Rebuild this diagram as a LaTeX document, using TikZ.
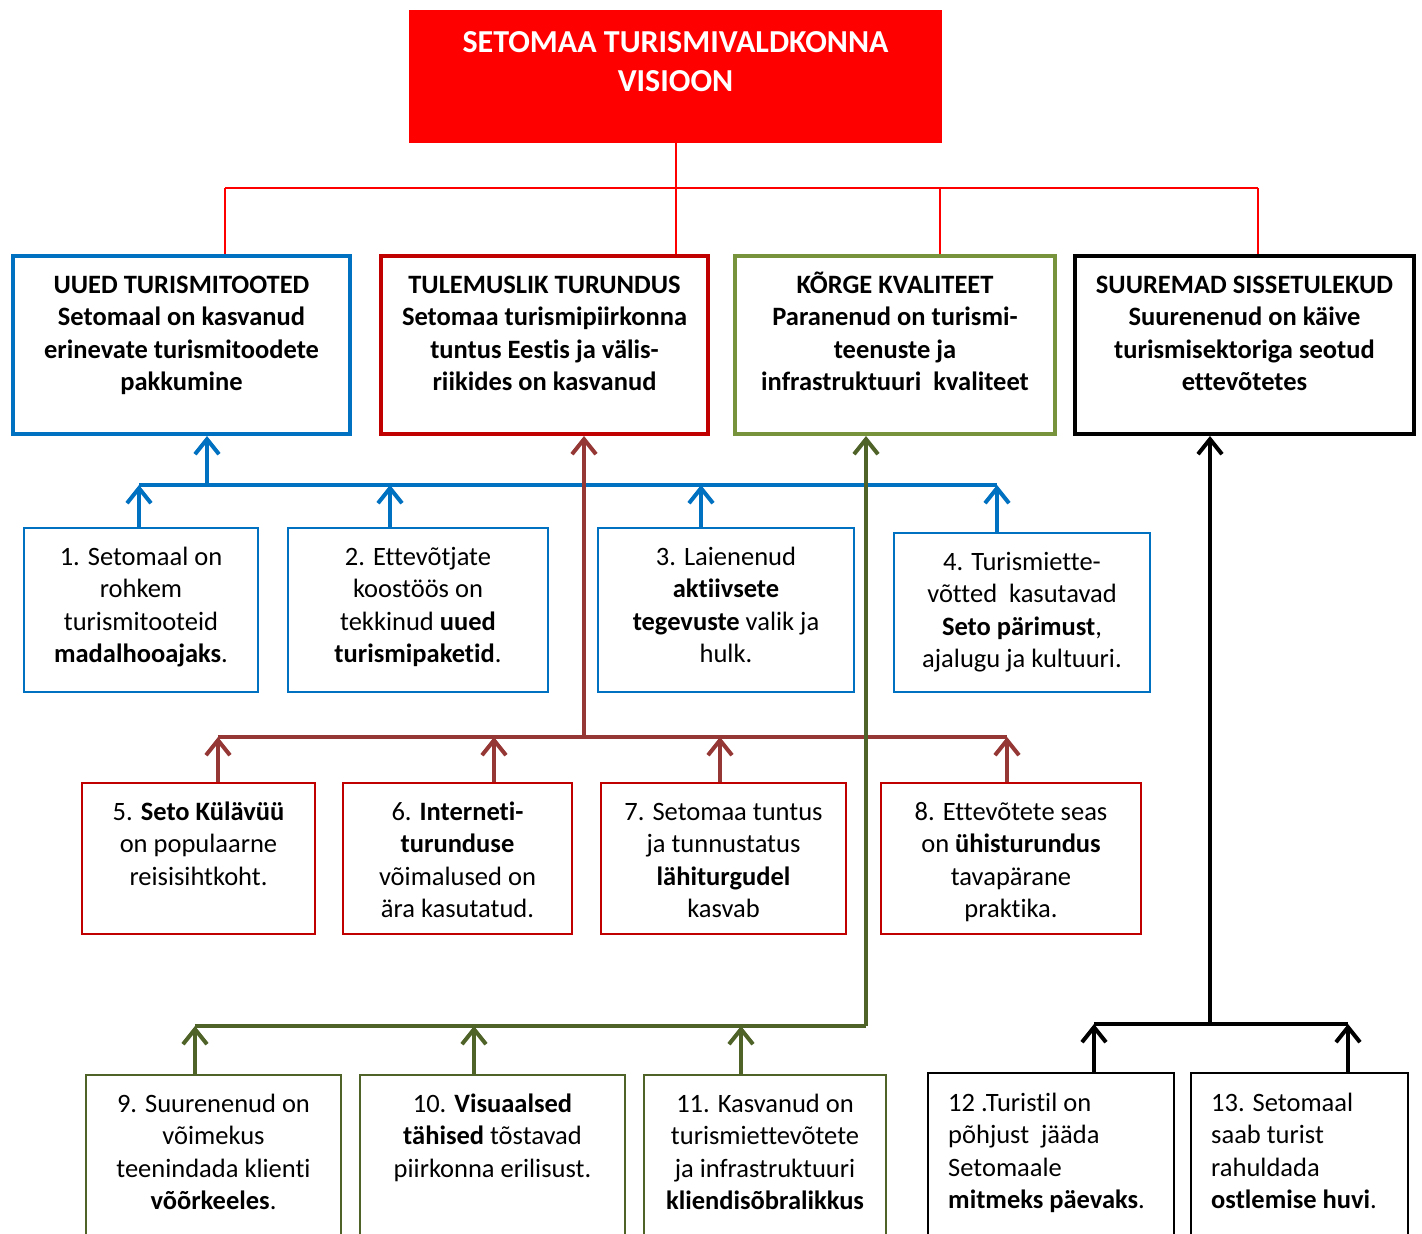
\documentclass[tikz,border=0pt]{standalone}
\usepackage{fontspec}
\setmainfont{Carlito}[Ligatures=NoCommon]
\usetikzlibrary{arrows.meta}
\definecolor{vblue}{HTML}{0070C0}
\definecolor{vdred}{HTML}{C00000}
\definecolor{vgreen}{HTML}{77933C}
\definecolor{vbrown}{HTML}{953735}
\definecolor{vdgreen}{HTML}{4F6228}
\definecolor{vred}{HTML}{FF0000}
\begin{document}
\begin{tikzpicture}[x=1pt,y=-1pt,
  hdr/.style={draw, line width=4pt, minimum height=178pt, inner sep=0pt},
  sub/.style={draw, line width=2pt, inner sep=0pt},
  hdrtxt/.style={font=\fontsize{26.5}{32.5}\selectfont\bfseries, align=center, inner sep=0pt, anchor=base},
  subtxt/.style={font=\fontsize{26.5}{32.5}\selectfont, align=center, inner sep=0pt, anchor=base},
  lefttxt/.style={font=\fontsize{26.5}{32.5}\selectfont, align=left, inner sep=0pt, anchor=base west},
  bus/.style={line width=4pt},
  arr/.style={line width=4pt, -{Straight Barb[length=15pt,width=24pt]}},
  redline/.style={draw=vred, line width=2pt}]
\useasboundingbox (0,0) rectangle (1422,1234);
\clip (0,0) rectangle (1422,1234);
\fill[white] (0,0) rectangle (1422,1234);

% title (anchor base = baseline of last line)
\node[fill=vred, minimum width=533pt, minimum height=133pt, inner sep=0pt] (title) at (675.5,76.5) {};
\node[font=\fontsize{32}{39}\selectfont\bfseries, text=white, align=center, inner sep=0pt, anchor=base] (titletxt) at (675.5,91.5) {SETOMAA TURISMIVALDKONNA\\VISIOON};

% headers
\node[hdr, draw=vblue, minimum width=337pt] (A) at (181.5,345) {};
\node[hdr, draw=vdred, minimum width=327pt] (B) at (544.5,345) {};
\node[hdr, draw=vgreen, minimum width=320pt] (C) at (895,345) {};
\node[hdr, draw=black, minimum width=339pt] (D) at (1244.5,345) {};
\node[hdrtxt] (At) at (181.5,390.5) {UUED TURISMITOOTED\\Setomaal on kasvanud\\erinevate turismitoodete\\pakkumine};
\node[hdrtxt] (Bt) at (544.5,390.5) {TULEMUSLIK TURUNDUS\\Setomaa turismipiirkonna\\tuntus Eestis ja välis-\\riikides on kasvanud};
\node[hdrtxt] (Ct) at (895,390.5) {KÕRGE KVALITEET\\Paranenud on turismi-\\teenuste ja\\infrastruktuuri\ \ kvaliteet};
\node[hdrtxt] (Dt) at (1244.5,390.5) {SUUREMAD SISSETULEKUD\\Suurenenud on käive\\turismisektoriga seotud\\ettevõtetes};

% red connectors from title
\coordinate (rj) at (676,188);
\coordinate (rA) at (225,188);
\coordinate (rB) at (676,188);
\coordinate (rC) at (940,188);
\coordinate (rD) at (1258,188);
\draw[redline] (rj |- title.south) -- (rj);
\draw[redline] (rA) -- (rD);
\draw[redline] (rA) -- (rA |- A.north);
\draw[redline] (rB) -- (rB |- B.north);
\draw[redline] (rC) -- (rC |- C.north);
\draw[redline] (rD) -- (rD |- D.north);

% row 1
\node[sub, draw=vblue, minimum width=234pt, minimum height=164pt] (b1) at (141,610) {};
\node[sub, draw=vblue, minimum width=260pt, minimum height=164pt] (b2) at (418,610) {};
\node[sub, draw=vblue, minimum width=256pt, minimum height=164pt] (b3) at (726,610) {};
\node[sub, draw=vblue, minimum width=256pt, minimum height=159pt] (b4) at (1022,612.5) {};
\node[subtxt] (t1) at (141,662.5) {1. Setomaal on\\rohkem\\turismitooteid\\\textbf{madalhooajaks}.};
\node[subtxt] (t2) at (418,662.5) {2. Ettevõtjate\\koostöös on\\tekkinud \textbf{uued}\\\textbf{turismipaketid}.};
\node[subtxt] (t3) at (726,662.5) {3. Laienenud\\\textbf{aktiivsete}\\\textbf{tegevuste} valik ja\\hulk.};
\node[subtxt] (t4) at (1022,667.5) {4. Turismiette-\\võtted\ \ kasutavad\\\textbf{Seto pärimust},\\ajalugu ja kultuuri.};

% row 2
\node[sub, draw=vdred, minimum width=233pt, minimum height=151pt] (b5) at (198.5,858.5) {};
\node[sub, draw=vdred, minimum width=229pt, minimum height=151pt] (b6) at (457.5,858.5) {};
\node[sub, draw=vdred, minimum width=245pt, minimum height=151pt] (b7) at (723.5,858.5) {};
\node[sub, draw=vdred, minimum width=260pt, minimum height=151pt] (b8) at (1011,858.5) {};
\node[subtxt] (t5) at (198.5,885) {5. \textbf{Seto Külävüü}\\on populaarne\\reisisihtkoht.};
\node[subtxt] (t6) at (457.5,917.5) {6. \textbf{Interneti-}\\\textbf{turunduse}\\võimalused on\\ära kasutatud.};
\node[subtxt] (t7) at (723.5,917.5) {7. Setomaa tuntus\\ja tunnustatus\\\textbf{lähiturgudel}\\kasvab};
\node[subtxt] (t8) at (1011,917.5) {8. Ettevõtete seas\\on \textbf{ühisturundus}\\tavapärane\\praktika.};

% row 3
\node[sub, draw=vdgreen, minimum width=255pt, minimum height=185pt] (b9) at (213.5,1167.5) {};
\node[sub, draw=vdgreen, minimum width=265pt, minimum height=185pt] (b10) at (492.5,1167.5) {};
\node[sub, draw=vdgreen, minimum width=242pt, minimum height=185pt] (b11) at (765,1167.5) {};
\node[sub, draw=black, minimum width=246pt, minimum height=187pt] (b12) at (1051,1166.5) {};
\node[sub, draw=black, minimum width=217pt, minimum height=187pt] (b13) at (1299.5,1166.5) {};
\node[subtxt] (t9) at (213.5,1209.5) {9. Suurenenud on\\võimekus\\teenindada klienti\\\textbf{võõrkeeles}.};
\node[subtxt] (t10) at (492.5,1177) {10. \textbf{Visuaalsed}\\\textbf{tähised} tõstavad\\piirkonna erilisust.};
\node[subtxt] (t11) at (765,1209.5) {11. Kasvanud on\\turismiettevõtete\\ja infrastruktuuri\\\textbf{kliendisõbralikkus}};
\node[lefttxt] (t12) at (948,1208.5) {12 .Turistil on\\põhjust\ \ jääda\\Setomaale\\\textbf{mitmeks päevaks}.};
\node[lefttxt] (t13) at (1211,1208.5) {13. Setomaal\\saab turist\\rahuldada\\\textbf{ostlemise huvi}.};

% blue connectors
\coordinate (ua) at (207,485);
\coordinate (u1) at (139,485);
\coordinate (u2) at (390,485);
\coordinate (u3) at (701,485);
\coordinate (u4) at (997,485);
\draw[bus, vblue] (u1) -- (u4);
\draw[arr, vblue] (ua) -- (ua |- A.south);
\draw[arr, vblue] (u1 |- b1.north) -- (u1);
\draw[arr, vblue] (u2 |- b2.north) -- (u2);
\draw[arr, vblue] (u3 |- b3.north) -- (u3);
\draw[arr, vblue] (u4 |- b4.north) -- (u4);

% brown connectors
\coordinate (ub) at (584,737);
\coordinate (u5) at (218,737);
\coordinate (u6) at (494,737);
\coordinate (u7) at (720,737);
\coordinate (u8) at (1007,737);
\draw[bus, vbrown] (u5) -- (u8);
\draw[arr, vbrown] (ub) -- (ub |- B.south);
\draw[arr, vbrown] (u5 |- b5.north) -- (u5);
\draw[arr, vbrown] (u6 |- b6.north) -- (u6);
\draw[arr, vbrown] (u7 |- b7.north) -- (u7);
\draw[arr, vbrown] (u8 |- b8.north) -- (u8);

% green connectors
\coordinate (uc) at (866,1026);
\coordinate (u9) at (195,1026);
\coordinate (u10) at (474,1026);
\coordinate (u11) at (741,1026);
\draw[bus, vdgreen] (u9) -- (uc);
\draw[arr, vdgreen] (uc) -- (uc |- C.south);
\draw[arr, vdgreen] (u9 |- b9.north) -- (u9);
\draw[arr, vdgreen] (u10 |- b10.north) -- (u10);
\draw[arr, vdgreen] (u11 |- b11.north) -- (u11);

% black connectors
\coordinate (ud) at (1210,1024);
\coordinate (u12) at (1094,1024);
\coordinate (u13) at (1348,1024);
\draw[bus, black] (u12) -- (u13);
\draw[arr, black] (ud) -- (ud |- D.south);
\draw[arr, black] (u12 |- b12.north) -- (u12);
\draw[arr, black] (u13 |- b13.north) -- (u13);
\end{tikzpicture}
\end{document}
